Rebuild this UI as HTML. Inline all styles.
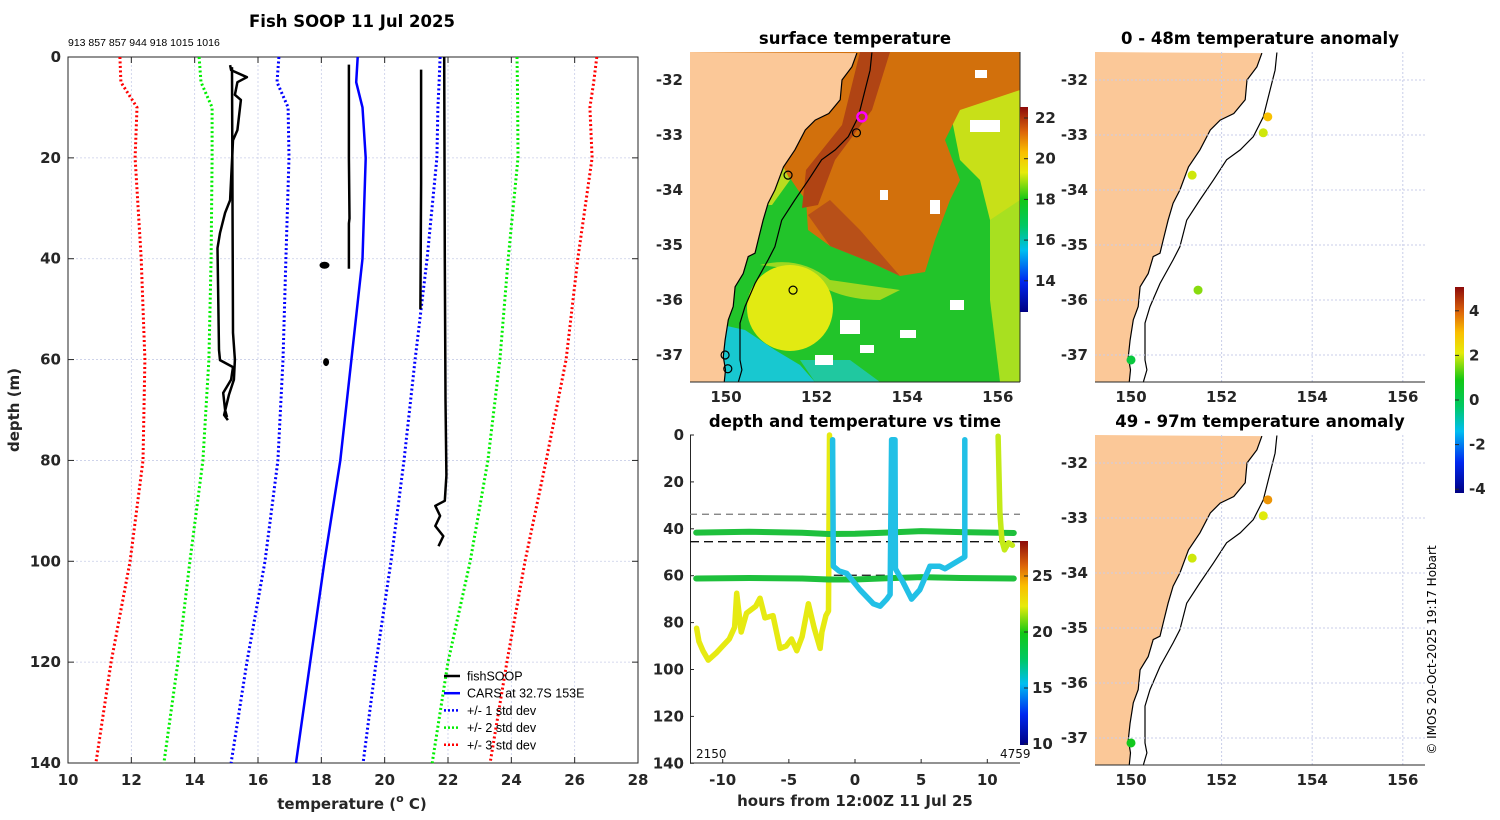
<!DOCTYPE html>
<html><head><meta charset="utf-8"><style>
body{margin:0;background:#fff}
svg{display:block;font-family:"DejaVu Sans","Liberation Sans",sans-serif}
.t{font-weight:bold;font-size:15px;fill:#262626}
.ti{font-weight:bold;font-size:16.5px;fill:#000}
</style></head><body>
<svg id="s" width="1500" height="820" viewBox="0 0 1500 820" xmlns="http://www.w3.org/2000/svg"></svg>
<script>
// ---------- data ----------
const stdDepths=[0,5,10,20,40,60,80,100,120,140];
const carsT=[19.15,19.1,19.3,19.4,19.3,18.95,18.6,18.1,17.65,17.2];
const std1Lo=[16.66,16.6,16.95,16.98,16.88,16.79,16.63,16.22,15.65,15.15];
const std1Hi=[21.75,21.72,21.68,21.65,21.34,20.96,20.61,20.2,19.73,19.32];
const std2Lo=[14.14,14.2,14.55,14.55,14.52,14.45,14.26,13.85,13.47,13.03];
const std2Hi=[24.18,24.19,24.2,24.21,23.9,23.64,23.26,22.7,22.0,21.5];
const std3Lo=[11.64,11.67,12.18,12.12,12.31,12.43,12.37,11.96,11.36,10.88];
const std3Hi=[26.7,26.6,26.48,26.55,26.1,25.73,25.1,24.43,23.86,23.33];
const profA1T=[15.12,15.15,15.65,15.35,15.27,15.46,15.35,15.21,15.12,14.96,14.8,14.72,14.77,14.8,15.21,15.15,14.9,14.96,15.02];
const profA1D=[1.6,2.6,4.0,5.0,7.5,8.5,14.5,16.5,28.4,30.9,34.9,37.9,58.1,60.1,61.5,64,66.6,70,71.4];
const profA2T=[15.18,15.21,15.27,15.24,15.08,14.93,15.05];
const profA2D=[2,54.7,60,64,67,71,72];
const profBT=[18.87,18.87,18.89,18.87,18.87];const profBD=[1.5,20,32,33,42];
const profCT=[21.15,21.15,21.13];const profCD=[2.5,25,50];
const profDT=[21.88,21.9,21.92,21.95,21.9,21.6,21.75,21.6,21.85,21.7];
const profDD=[0,40,68,83,88,89,91,93,95,97];
// depth vs time tracks
const trkYH=[-11.97,-11.8,-11.5,-11.09,-10.5,-10,-9.5,-9.1,-8.94,-8.6,-8.2,-7.5,-7.18,-6.8,-6.2,-5.67,-5.2,-4.8,-4.4,-4,-3.52,-3.1,-2.64,-2.5,-2.2,-2.0,-1.93];
const trkYD=[82.4,88,92,96,93,90,87,82,67.5,84,76,73,69.6,78,77,91,90,87,92,86,72,82,91,84,77,75,0];
const trkCH=[-1.69,-1.64,-1.2,-0.63,0.38,1.39,1.9,2.4,2.65,2.77,3.02,3.05,3.65,4.28,4.9,5.66,6.4,6.8,7.4,8.3,8.3];
const trkCD=[2,56,58,59,66,72,73,70,68,2,2,57,63,70,66,56,56,57,55,52,2];
const trkEH=[10.82,10.95,11.1,11.3,11.6,11.9];
const trkED=[0.5,33,45,49,46,47];
const g1H=[-12,-8,-4,-2,0,3,5,8,12];const g1D=[41.6,41.3,41.7,42.2,42.1,41.5,41.0,41.4,41.8];
const g2H=[-12,-8,-4,-2,0,3,5,8,12];const g2D=[61.2,61.0,61.2,61.6,61.6,61.0,60.6,61.0,61.2];
// maps
const coastLon=[152.89,152.78,152.56,152.52,152.27,151.97,151.75,151.52,151.27,151.08,150.93,150.82,150.71,150.64,150.49,150.38,150.2,150.16,150.05,149.98,149.94,149.99,149.96];
const coastLat=[-31.51,-31.76,-32.0,-32.36,-32.61,-32.73,-32.91,-33.27,-33.58,-34.0,-34.24,-34.55,-34.91,-35.15,-35.21,-35.52,-35.76,-36.12,-36.36,-36.73,-37.03,-37.27,-37.5];
const isoLon=[153.22,153.18,153.07,152.92,152.7,152.41,152.11,151.82,151.52,151.23,151.08,150.93,150.64,150.42,150.31,150.31,150.35,150.27];
const isoLat=[-31.5,-31.82,-32.18,-32.67,-33.03,-33.27,-33.45,-33.82,-34.18,-34.55,-35.03,-35.27,-35.7,-36.12,-36.42,-37.09,-37.27,-37.5];
const stnLon=[153.02,152.92,151.35,151.48,150.0];
const stnLat=[-32.67,-32.96,-33.73,-35.82,-37.09];
const anom1=[3.0,2.0,2.0,1.6,0.3];
const anom2=[3.5,2.1,2.0,null,0.8];
const sstStnLon=[153.0,152.88,151.37,151.48,149.98,150.04];
const sstStnLat=[-32.67,-32.96,-33.73,-35.82,-37.0,-37.25];

const S=document.getElementById('s');const NS='http://www.w3.org/2000/svg';
function el(tag,attrs,parent,name,txt){const e=document.createElementNS(NS,tag);for(const k in attrs)e.setAttribute(k,attrs[k]);


if(txt!==undefined)e.textContent=txt;(parent||S).appendChild(e);return e;}
function pts(xs,ys,fx,fy){return xs.map((v,i)=>fx(v).toFixed(1)+','+fy(ys[i]).toFixed(1)).join(' ');}
const jetStops=[[0,[0,0,130]],[0.15,[0,40,240]],[0.3,[0,190,240]],[0.42,[0,200,100]],[0.55,[20,200,20]],[0.68,[230,235,10]],[0.78,[250,190,0]],[0.88,[220,100,10]],[1,[140,10,10]]];
function cmap(f){f=Math.max(0,Math.min(1,f));for(let i=1;i<jetStops.length;i++){if(f<=jetStops[i][0]){const a=jetStops[i-1],b=jetStops[i];const u=(f-a[0])/(b[0]-a[0]);const c=a[1].map((v,k)=>Math.round(v+(b[1][k]-v)*u));return 'rgb('+c.join(',')+')';}}return 'rgb(140,10,10)';}
const defs=el('defs',{},S,'defs');
const lg=el('linearGradient',{id:'jet',x1:0,y1:1,x2:0,y2:0},defs,'jet-gradient');
jetStops.forEach(s=>el('stop',{offset:s[0],'stop-color':cmap(s[0])},lg,'gradient-stop'));

// ---------- left panel ----------
const L={x0:68,x1:638,y0:57,y1:763};
const xT=t=>L.x0+(t-10)*(L.x1-L.x0)/18, yD=d=>L.y0+d*(L.y1-L.y0)/140;
const gp=el('g',{},S,'profile-panel');
el('text',{x:352,y:27,'text-anchor':'middle',class:'ti'},gp,'profile-title','Fish SOOP 11 Jul 2025');
el('text',{x:68,y:46,'font-size':10.5,fill:'#000','font-family':'Liberation Sans Narrow,Liberation Sans,sans-serif'},gp,'serial-numbers','913 857 857 944 918 1015 1016');
for(let t=12;t<=26;t+=2)el('line',{x1:xT(t),x2:xT(t),y1:L.y0,y2:L.y1,stroke:'#c8cde8','stroke-width':0.8,'stroke-dasharray':'2,2'},gp,'x-gridline');
for(let d=20;d<=120;d+=20)el('line',{x1:L.x0,x2:L.x1,y1:yD(d),y2:yD(d),stroke:'#c8cde8','stroke-width':0.8,'stroke-dasharray':'2,2'},gp,'y-gridline');
el('rect',{x:L.x0,y:L.y0,width:L.x1-L.x0,height:L.y1-L.y0,fill:'none',stroke:'#262626','stroke-width':1},gp,'profile-axes-box');
for(let t=10;t<=28;t+=2){el('line',{x1:xT(t),x2:xT(t),y1:L.y1,y2:L.y1-6,stroke:'#262626'},gp,'x-tick');el('line',{x1:xT(t),x2:xT(t),y1:L.y0,y2:L.y0+6,stroke:'#262626'},gp,'x-tick');
el('text',{x:xT(t),y:785,'text-anchor':'middle',class:'t'},gp,'x-tick-label',t);}
for(let d=0;d<=140;d+=20){el('line',{x1:L.x0,x2:L.x0+6,y1:yD(d),y2:yD(d),stroke:'#262626'},gp,'y-tick');el('line',{x1:L.x1,x2:L.x1-6,y1:yD(d),y2:yD(d),stroke:'#262626'},gp,'y-tick');
el('text',{x:61,y:yD(d)+5,'text-anchor':'end',class:'t'},gp,'y-tick-label',d);}
const xl=el('text',{x:352,y:809,'text-anchor':'middle',class:'t','font-size':16},gp,'x-axis-title','temperature (');
el('tspan',{dy:-7,'font-size':11},xl,'degree-sup','o');el('tspan',{dy:7},xl,'unit',' C)');
el('text',{x:19,y:410,'text-anchor':'middle',class:'t','font-size':16,transform:'rotate(-90 19 410)'},gp,'y-axis-title','depth (m)');
function stdLine(arr,col,name){el('polyline',{points:pts(arr,stdDepths,xT,yD),fill:'none',stroke:col,'stroke-width':3,'stroke-dasharray':'2,2.5'},gp,name);}
stdLine(std3Lo,'#ff0000','std3-low');stdLine(std3Hi,'#ff0000','std3-high');
stdLine(std2Lo,'#00ee00','std2-low');stdLine(std2Hi,'#00ee00','std2-high');
stdLine(std1Lo,'#0000ff','std1-low');stdLine(std1Hi,'#0000ff','std1-high');
el('polyline',{points:pts(carsT,stdDepths,xT,yD),fill:'none',stroke:'#0000ff','stroke-width':2.5},gp,'cars-line');
[[profA1T,profA1D,'profile-a1'],[profA2T,profA2D,'profile-a2'],[profBT,profBD,'profile-b'],[profCT,profCD,'profile-c'],[profDT,profDD,'profile-d']].forEach(p=>
el('polyline',{points:pts(p[0],p[1],xT,yD),fill:'none',stroke:'#000','stroke-width':2.5,'stroke-linejoin':'round'},gp,p[2]));
el('ellipse',{cx:xT(18.1),cy:yD(41.3),rx:5,ry:3.5,fill:'#000'},gp,'profile-blob');
el('ellipse',{cx:xT(18.15),cy:yD(60.5),rx:3,ry:4,fill:'#000'},gp,'profile-blob');
const leg=[['fishSOOP','#000',''],['CARS at 32.7S 153E','#0000ff',''],['+/- 1 std dev','#0000ff','2,2'],['+/- 2 std dev','#00ee00','2,2'],['+/- 3 std dev','#ff0000','2,2']];
const lgG=el('g',{},gp,'legend');
leg.forEach((e,i)=>{const y=676+i*17.2;el('line',{x1:444,x2:460,y1:y,y2:y,stroke:e[1],'stroke-width':2.5,'stroke-dasharray':e[2]},lgG,'legend-swatch');
el('text',{x:467,y:y+4.5,'font-size':12.5,fill:'#000','font-family':'Liberation Sans,sans-serif'},lgG,'legend-entry',e[0]);});

// ---------- maps ----------
function mapFns(x0,y0){return [lon=>x0+36+(lon-150)*45.3, lat=>y0+28+(-32-lat)*55];}
function drawMapAxes(g,x0,y0,fx,fy,grid,name){
 if(grid){[152,154,156].forEach(l=>el('line',{x1:fx(l),x2:fx(l),y1:y0,y2:y0+330,stroke:'#c8cde8','stroke-dasharray':'2,2'},g,'map-gridline'));
 for(let la=-32;la>=-37;la--)el('line',{x1:x0,x2:x0+330,y1:fy(la),y2:fy(la),stroke:'#c8cde8','stroke-dasharray':'2,2'},g,'map-gridline');}
 for(let la=-32;la>=-37;la--)el('text',{x:x0-7,y:fy(la)+5,'text-anchor':'end',class:'t'},g,'lat-label',la);
 [150,152,154,156].forEach(l=>el('text',{x:fx(l),y:y0+350,'text-anchor':'middle',class:'t'},g,'lon-label',l));
 el('line',{x1:x0,x2:x0+330,y1:y0+330,y2:y0+330,stroke:'#262626'},g,name+'-bottom-axis');
}
function landAndIso(g,fx,fy,x0,y0){
 el('polygon',{points:x0+','+y0+' '+pts(coastLon,coastLat,fx,fy)+' '+x0+','+(y0+330),fill:'#fbc898',stroke:'none'},g,'land');
 el('polyline',{points:pts(coastLon,coastLat,fx,fy),fill:'none',stroke:'#000','stroke-width':1.2},g,'coastline');
 el('polyline',{points:pts(isoLon,isoLat,fx,fy),fill:'none',stroke:'#000','stroke-width':1.2},g,'shelf-isobath');
}
// SST map
(function(){const x0=690,y0=52;const [fx,fy]=mapFns(x0,y0);const g=el('g',{},S,'sst-map');
 el('text',{x:855,y:44,'text-anchor':'middle',class:'ti'},g,'sst-title','surface temperature');
 const cp=el('clipPath',{id:'sstclip'},defs,'sst-clip');el('rect',{x:x0,y:y0,width:330,height:330},cp,'clip-rect');
 const im=el('g',{'clip-path':'url(#sstclip)'},g,'sst-image');
 el('rect',{x:x0,y:y0,width:330,height:330,fill:'#22c42a'},im,'sst-background');
 el('polygon',{points:'990,200 1020,180 1020,382 1000,382 990,300',fill:'#a8e020'},im,'sst-warm-band');
 el('polygon',{points:'950,110 1020,85 1020,200 990,220 980,180 960,160',fill:'#c8e018'},im,'sst-yellow-region');
 el('polygon',{points:'690,52 1020,52 1020,90 960,110 945,140 960,180 950,200 935,240 925,272 900,276 870,262 830,246 808,230 806,200 798,190 790,178 775,168 690,168',fill:'#d2700c'},im,'sst-warm-core');
 el('polygon',{points:'690,150 780,160 790,180 772,205 690,205',fill:'#b8dc20'},im,'sst-coastal-mix');
 el('polygon',{points:'860,52 890,52 872,110 835,160 818,205 802,208 806,170 842,125',fill:'#b04414'},im,'sst-dark-strip');
 el('polygon',{points:'808,215 830,200 860,230 900,276 870,262 830,246',fill:'#b85018'},im,'sst-dark-lobe');
 el('path',{d:'M760,265 Q800,255 830,280 L900,290 L880,300 Q830,300 800,270 Z',fill:'#9ed820'},im,'sst-filament');
 el('polygon',{points:'700,320 745,330 775,350 800,365 815,382 700,382',fill:'#18c8d0'},im,'sst-cold-coastal');
 el('circle',{cx:790,cy:308,r:43,fill:'#e2ea12'},im,'sst-eddy');
 el('polygon',{points:'800,360 850,360 880,382 815,382',fill:'#20c8a0'},im,'sst-cool-band');
 [[840,320,20,14],[950,300,14,10],[900,330,16,8],[970,120,30,12],[930,200,10,14],[815,355,18,10],[860,345,14,8],[975,70,12,8],[880,190,8,10]].forEach(r=>el('rect',{x:r[0],y:r[1],width:r[2],height:r[3],fill:'#fff'},im,'sst-cloud-gap'));
 landAndIso(im,fx,fy,x0,y0);
 sstStnLon.forEach((l,i)=>el('circle',{cx:fx(l),cy:fy(sstStnLat[i]),r:i==0?4.5:4,fill:'none',stroke:i==0?'#ff00ff':'#000','stroke-width':i==0?2.5:1.2},g,'sst-station'));
 el('line',{x1:1020,x2:1020,y1:y0,y2:y0+330,stroke:'#262626'},g,'sst-right-axis');
 drawMapAxes(g,x0,y0,fx,fy,false,'sst');
 el('rect',{x:1020,y:107,width:8,height:205,fill:'url(#jet)'},g,'sst-colorbar');
 [22,20,18,16,14].forEach(v=>{const y=118+(22-v)*20.35;el('text',{x:1035,y:y+5,class:'t','font-size':13},g,'sst-colorbar-label',v);el('line',{x1:1024,x2:1028,y1:y,y2:y,stroke:'#262626'},g,'sst-colorbar-tick');});
})();
// anomaly maps
function anomMap(y0,title,vals,name){const x0=1095;const [fx,fy]=mapFns(x0,y0);const g=el('g',{},S,name);
 el('text',{x:1260,y:y0-8,'text-anchor':'middle',class:'ti'},g,name+'-title',title);
 landAndIso(g,fx,fy,x0,y0);drawMapAxes(g,x0,y0,fx,fy,true,name);
 vals.forEach((v,i)=>{if(v===null)return;el('circle',{cx:fx(stnLon[i]),cy:fy(stnLat[i]),r:4.5,fill:cmap((v+4.15)/9.25)},g,'anomaly-point');});}
anomMap(52,'0 - 48m temperature anomaly',anom1,'anomaly-map-upper');
anomMap(435,'49 - 97m temperature anomaly',anom2,'anomaly-map-lower');
(function(){const g=el('g',{},S,'anomaly-colorbar');el('rect',{x:1455,y:287,width:9,height:206,fill:'url(#jet)'},g,'anomaly-colorbar-bar');
 [4,2,0,-2,-4].forEach(v=>{const y=400-v*22.3;el('line',{x1:1455,x2:1459,y1:y,y2:y,stroke:'#262626'},g,'anomaly-colorbar-tick');el('text',{x:1469,y:y+5,class:'t','font-size':12.5},g,'anomaly-colorbar-label',v);});})();
el('text',{x:1436,y:650,'text-anchor':'middle','font-size':12,fill:'#000','font-family':'DejaVu Sans,sans-serif',transform:'rotate(-90 1436 650)'},S,'copyright','© IMOS 20-Oct-2025 19:17 Hobart');

// ---------- depth vs time ----------
(function(){const g=el('g',{},S,'depth-time-panel');
 const xH=h=>855+h*13.23, yT=d=>435+d*2.345;
 el('text',{x:855,y:427,'text-anchor':'middle',class:'ti'},g,'depth-time-title','depth and temperature vs time');
 el('line',{x1:690.5,x2:690.5,y1:435,y2:763,stroke:'#262626'},g,'dt-y-axis');
 el('line',{x1:690,x2:1020,y1:763,y2:763,stroke:'#262626'},g,'dt-x-axis');
 for(let d=0;d<=140;d+=20){el('line',{x1:690,x2:694,y1:yT(d),y2:yT(d),stroke:'#262626'},g,'dt-y-tick');el('text',{x:684,y:yT(d)+5,'text-anchor':'end',class:'t'},g,'dt-y-tick-label',d);}
 for(let h=-10;h<=10;h+=5){el('line',{x1:xH(h),x2:xH(h),y1:763,y2:759,stroke:'#262626'},g,'dt-x-tick');el('text',{x:xH(h),y:785,'text-anchor':'middle',class:'t'},g,'dt-x-tick-label',h);}
 el('text',{x:855,y:806,'text-anchor':'middle',class:'t','font-size':16},g,'dt-x-axis-title','hours from 12:00Z 11 Jul 25');
 el('line',{x1:690,x2:1020,y1:yT(33.8),y2:yT(33.8),stroke:'#777','stroke-width':1.3,'stroke-dasharray':'7,5'},g,'layer1-boundary');
 el('line',{x1:690,x2:1020,y1:yT(45.5),y2:yT(45.5),stroke:'#111','stroke-width':1.3,'stroke-dasharray':'9,5'},g,'layer2-boundary');
 el('line',{x1:xH(-1.6),x2:xH(2.6),y1:yT(59.8),y2:yT(59.8),stroke:'#111','stroke-width':1.3,'stroke-dasharray':'9,5'},g,'layer-marker');
 const tr=(H,D,c,n,w)=>el('polyline',{points:pts(H,D,xH,yT),fill:'none',stroke:c,'stroke-width':w||5.5,'stroke-linejoin':'round','stroke-linecap':'round'},g,n);
 tr(trkYH,trkYD,'#e6ea12','track-warm');
 tr(g1H,g1D,'#1ec03c','track-sensor-41m',6);tr(g2H,g2D,'#1ec03c','track-sensor-61m',6);
 tr(trkCH,trkCD,'#22c0e6','track-cool');
 tr(trkEH,trkED,'#c4ea18','track-late');
 el('text',{x:696,y:758,'font-size':12,fill:'#111'},g,'dt-start-label','2150');
 el('text',{x:1000,y:758,'font-size':12,fill:'#111'},g,'dt-end-label','4759');
 el('rect',{x:1020,y:541,width:8,height:204,fill:'url(#jet)'},g,'dt-colorbar');
 [25,20,15,10].forEach(v=>{const y=744-(v-10)*11.2;el('line',{x1:1024,x2:1028,y1:y,y2:y,stroke:'#262626'},g,'dt-colorbar-tick');el('text',{x:1032,y:y+5,class:'t','font-size':12.5},g,'dt-colorbar-label',v);});
})();
</script>
</body></html>
